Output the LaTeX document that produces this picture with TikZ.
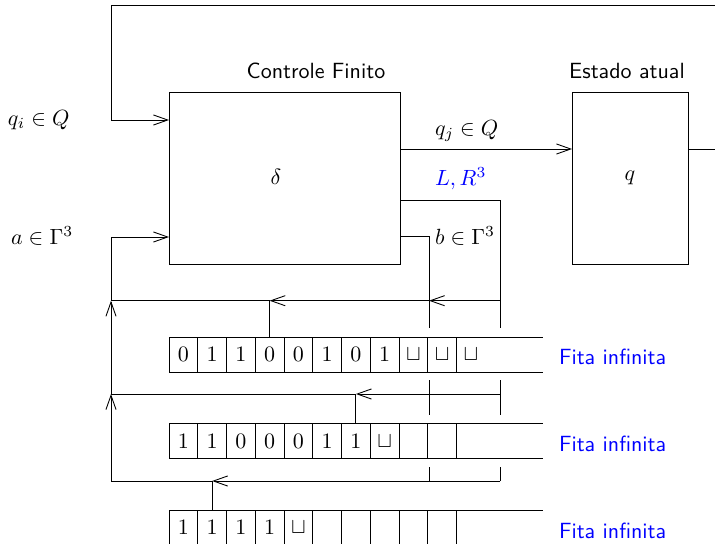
\documentclass[tikz,border=0pt]{standalone}
\usetikzlibrary{arrows.meta}
\begin{document}
\begin{tikzpicture}[x=0.4545pt,y=-0.4545pt,
  >={Straight Barb[length=6.5pt,width=4.6pt]},
  every node/.style={inner sep=0pt, outer sep=0pt},
  box/.style={draw, minimum width=#1, minimum height=78.2pt},
  cell/.style={draw, minimum width=13.07pt, minimum height=15.9pt},
  sflab/.style={font=\sffamily},
  fita/.style={font=\sffamily, text=blue, anchor=west},
  lab/.style={anchor=west}]
\useasboundingbox (0,0) rectangle (715,543);

% boxes
\node[box=105pt] (ctrl) at (284.5,178) {};
\node (delta) at (276,177) {$\delta$};
\node[box=52.7pt] (state) at (630,178) {$q$};
\node[sflab] (lctrl) at (316,71) {Controle Finito};
\node[sflab] (lstate) at (627,71) {Estado atual};

% labels
\node[lab] (qi) at (8,120) {$q_i \in Q$};
\node[lab] (ai) at (11,236) {$a \in \Gamma^3$};
\node[lab] (qj) at (435,131) {$q_j \in Q$};
\node[lab, text=blue] (lrl) at (435,179) {$L, R^3$};
\node[lab] (bl) at (435,236) {$b \in \Gamma^3$};

% top feedback loop
\coordinate (r1) at (716,149);
\coordinate (r2) at (716,5);
\coordinate (l1) at (111,5);
\coordinate (l2) at (111,120);
\draw[->] (state.east |- r1) -- (r1) -- (r2) -- (l1) -- (l2) -- (ctrl.west |- l2);
\draw[->] (ctrl.east |- r1) -- (state.west |- r1);

% L,R and b lines
\coordinate (lr0) at (500,200);
\coordinate (lr1) at (500,328.3);
\draw (ctrl.east |- lr0) -- (lr0) -- (lr1);
\coordinate (bw0) at (429,236);
\coordinate (bw1) at (429,328.3);
\draw (ctrl.east |- bw0) -- (bw0) -- (bw1);

% tape 1
\foreach \s [count=\i] in {0,1,1,0,0,1,0,1,\sqcup,\sqcup}
  \node[cell] (a\i) at ({169+28.75*(\i-0.5)},354.5) {$\s$};
\node (a11) at (470.9,354.5) {$\sqcup$};
\coordinate (aend) at (543,354.5);
\draw (a10.north east) -- (a10.north east -| aend);
\draw (a10.south east) -- (a10.south east -| aend);
\node[fita] (fa) at (559,357) {Fita infinita};

% tape 2
\foreach \s [count=\i] in {1,1,0,0,0,1,1,\sqcup,{},{}}
  \node[cell] (b\i) at ({169+28.75*(\i-0.5)},441) {$\s$};
\draw (b10.north east) -- (b10.north east -| aend);
\draw (b10.south east) -- (b10.south east -| aend);
\node[fita] (fb) at (559,444) {Fita infinita};

% tape 3
\foreach \s [count=\i] in {1,1,1,1,\sqcup,{},{},{},{},{}}
  \node[cell] (c\i) at ({169+28.75*(\i-0.5)},527.5) {$\s$};
\draw (c10.north east) -- (c10.north east -| aend);
\draw (c10.south east) -- (c10.south east -| aend);
\node[fita] (fc) at (559,531) {Fita infinita};

% read line 1
\coordinate (y1r) at (500,300.7);
\coordinate (y1l) at (111,300.7);
\draw[->] (y1r) -- (bw1 |- y1r);
\draw[->] (bw1 |- y1r) -- (a4.north |- y1r);
\draw (a4.north |- y1r) -- (y1l);
\draw (a4.north) -- (a4.north |- y1r);

% read line 2
\coordinate (y2r) at (500,394);
\coordinate (y2l) at (111,394);
\draw[->] (y2r) -- (b7.north |- y2r);
\draw (b7.north |- y2r) -- (y2l);
\draw (b7.north) -- (b7.north |- y2r);
\coordinate (s1a) at (429,380);
\coordinate (s1b) at (429,415);
\coordinate (s2a) at (500,380);
\coordinate (s2b) at (500,415);
\draw (s1a) -- (s1b);
\draw (s2a) -- (s2b);

% read line 3
\coordinate (y3r) at (500,481);
\coordinate (y3l) at (111,481);
\draw[->] (y3r) -- (c2.north |- y3r);
\draw (c2.north |- y3r) -- (y3l);
\draw (c2.north) -- (c2.north |- y3r);
\coordinate (s3a) at (429,467);
\coordinate (s4a) at (500,467);
\draw (s3a) -- (s3a |- y3r);
\draw (s4a) -- (y3r);

% left collector
\coordinate (ain) at (111,237);
\draw[->] (y3l) -- (y2l);
\draw[->] (y2l) -- (y1l);
\draw[->] (y1l) -- (ain) -- (ctrl.west |- ain);
\end{tikzpicture}
\end{document}
